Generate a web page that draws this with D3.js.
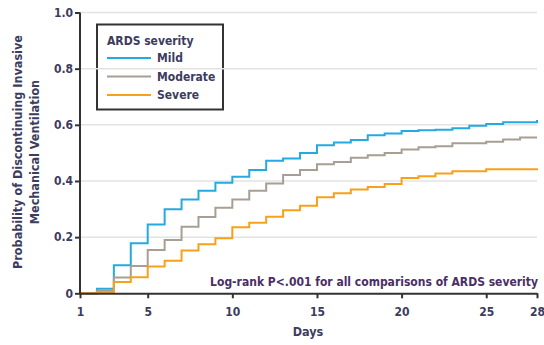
<!DOCTYPE html>
<meta charset="utf-8">
<head>
	<script src="https://cdn.jsdelivr.net/npm/d3@7"></script>
</head>
<style type="text/css">
	body { margin: 0; background: #fff; }
	svg { display: block; }
	text { font-family: "DejaVu Sans Condensed", "Liberation Sans Narrow", sans-serif; font-weight: bold; fill: #3c3c5e; }
	.grid line { stroke: #e3e3e3; stroke-width: 1.5px; }
	.axis path, .axis line { stroke: #333; stroke-width: 2px; }
</style>
<body>
<script>
	// step values, one per day (value holds from that day to the next)
	var days = d3.range(1, 29);
	var mild = [0, 0.016, 0.10, 0.178, 0.245, 0.299, 0.334, 0.365, 0.394, 0.415, 0.439, 0.472, 0.48, 0.50,
		0.527, 0.537, 0.546, 0.563, 0.569, 0.578, 0.581, 0.582, 0.588, 0.597, 0.603, 0.609, 0.609, 0.617];
	var moderate = [0, 0.009, 0.056, 0.097, 0.154, 0.19, 0.237, 0.272, 0.305, 0.334, 0.365, 0.391, 0.421, 0.439,
		0.46, 0.468, 0.483, 0.492, 0.50, 0.512, 0.52, 0.524, 0.534, 0.534, 0.54, 0.548, 0.555, 0.555];
	var severe = [0, 0.005, 0.04, 0.057, 0.095, 0.116, 0.152, 0.175, 0.196, 0.235, 0.251, 0.273, 0.296, 0.312,
		0.342, 0.356, 0.37, 0.379, 0.389, 0.411, 0.417, 0.427, 0.435, 0.435, 0.442, 0.442, 0.442, 0.445];
	var seriesNames = ["Mild", "Moderate", "Severe"];
	var seriesColors = ["#25a9e0", "#a89e93", "#f7a11a"];
	var xTicks = [1, 5, 10, 15, 20, 25, 28];
	var yTicks = [0, 0.2, 0.4, 0.6, 0.8, 1.0];

	var width = 544, height = 345;
	var margin = {top: 12.5, right: 7, bottom: 52, left: 80};

	var svg = d3.select("body").append("svg")
		.attr("width", width)
		.attr("height", height);

	var x = d3.scaleLinear().domain([1, 28]).range([margin.left, width - margin.right]);
	var y = d3.scaleLinear().domain([0, 1]).range([height - margin.bottom + 0.3, margin.top]);

	// legend box (no fill, gridlines run over it)
	var legend = svg.append("g");
	legend.append("rect")
		.attr("x", 97).attr("y", 24.5)
		.attr("width", 126).attr("height", 85)
		.attr("fill", "none")
		.attr("stroke", "#333")
		.attr("stroke-width", 2);

	// gridlines
	svg.append("g").attr("class", "grid")
		.selectAll("line")
		.data(yTicks.filter(function(d) { return d > 0; }))
	 .enter().append("line")
		.attr("x1", x(1)).attr("x2", x(28))
		.attr("y1", function(d) { return y(d); })
		.attr("y2", function(d) { return y(d); });

	// curves
	var line = d3.line()
		.x(function(d) { return x(d[0]); })
		.y(function(d) { return y(d[1]); })
		.curve(d3.curveStepAfter);

	[mild, moderate, severe].forEach(function(vals, i) {
		svg.append("path")
			.datum(days.map(function(d, j) { return [d, vals[j]]; }))
			.attr("fill", "none")
			.attr("stroke", seriesColors[i])
			.attr("stroke-width", 2)
			.attr("d", line);
	});

	// axes
	var xAxis = svg.append("g").attr("class", "axis")
		.attr("transform", "translate(0," + y(0) + ")")
		.call(d3.axisBottom(x).tickValues(xTicks).tickSize(5).tickSizeOuter(0).tickFormat(d3.format("d")));
	xAxis.selectAll("text").attr("dy", "1.2em").style("font-size", "12px").attr("fill", null);

	var yAxis = svg.append("g").attr("class", "axis")
		.attr("transform", "translate(" + x(1) + ",0)")
		.call(d3.axisLeft(y).tickValues(yTicks).tickSize(5).tickSizeOuter(0)
			.tickFormat(function(d) { return d === 0 ? "0" : d3.format(".1f")(d); }));
	yAxis.selectAll("text").attr("x", -7).style("font-size", "12px").attr("fill", null);
	yAxis.select(".domain").attr("d", "M0," + y(1) + "V" + (y(0) + 1));

	// axis titles
	svg.append("text")
		.attr("x", 308).attr("y", 336)
		.attr("text-anchor", "middle")
		.style("font-size", "12.5px")
		.text("Days");

	var yTitle = svg.append("text")
		.attr("transform", "translate(22,152) rotate(-90)")
		.attr("text-anchor", "middle")
		.style("font-size", "12.5px");
	yTitle.append("tspan").attr("x", 0).attr("y", 0).text("Probability of Discontinuing Invasive");
	yTitle.append("tspan").attr("x", 0).attr("y", 17).text("Mechanical Ventilation");

	// log-rank note
	svg.append("text")
		.attr("x", x(28) + 1).attr("y", 286)
		.attr("text-anchor", "end")
		.style("font-size", "12px")
		.style("fill", "#4a2f66")
		.text("Log-rank P<.001 for all comparisons of ARDS severity");

	// legend entries
	legend.append("text")
		.attr("x", 107).attr("y", 45)
		.style("font-size", "12px")
		.text("ARDS severity");
	seriesNames.forEach(function(name, i) {
		var ly = 58 + i * 18.5;
		legend.append("line")
			.attr("x1", 107).attr("x2", 151)
			.attr("y1", ly).attr("y2", ly)
			.attr("stroke", seriesColors[i])
			.attr("stroke-width", 2);
		legend.append("text")
			.attr("x", 157).attr("y", ly)
			.attr("dy", "0.35em")
			.style("font-size", "12px")
			.text(name);
	});
</script>
</body>
